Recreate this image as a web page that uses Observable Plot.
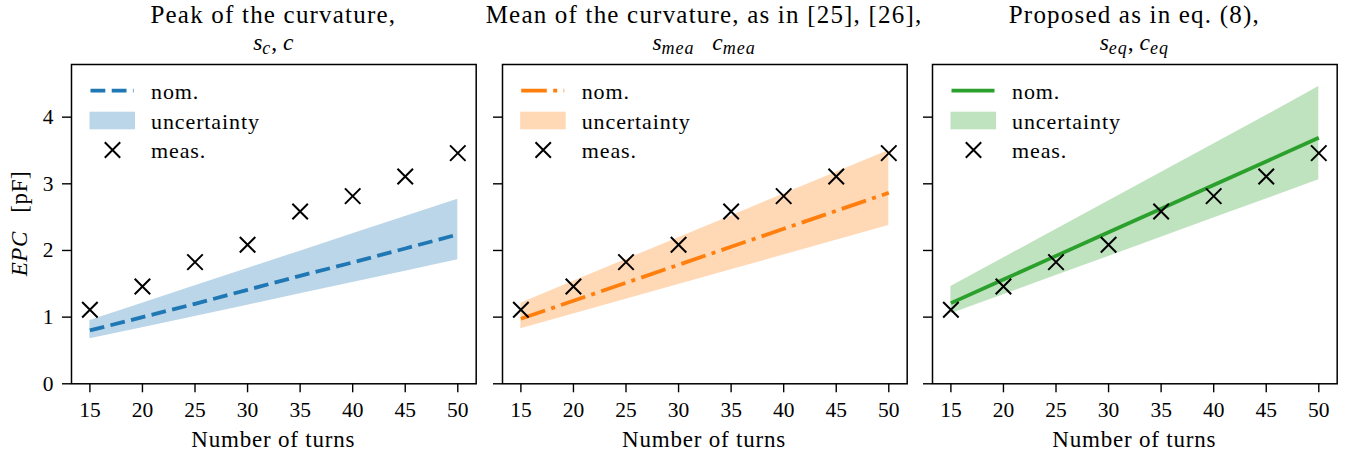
<!DOCTYPE html>
<html><head><meta charset="utf-8">
<script src="https://cdn.jsdelivr.net/npm/d3@7"></script>
<script src="https://cdn.jsdelivr.net/npm/@observablehq/plot@0.6"></script>
<style>
body{margin:0;background:#fff;}
#fig{position:relative;width:1348px;height:457px;font-family:"Liberation Serif","Times New Roman","DejaVu Serif",serif;color:#000;}
#fig > svg{position:absolute;top:0;}
#fig text{font-family:"Liberation Serif","Times New Roman","DejaVu Serif",serif;}
</style></head><body><div id="fig"></div>
<script>
// ---- data ----
const turns = [15, 20, 25, 30, 35, 40, 45, 50];
const measured = [1.11, 1.46, 1.825, 2.085, 2.585, 2.815, 3.11, 3.46];

const peakNom  = [0.80, 1.00, 1.20, 1.41, 1.62, 1.82, 2.03, 2.24];
const peakLow  = [0.675, 0.84, 1.01, 1.18, 1.35, 1.52, 1.69, 1.86];
const peakHigh = [0.95, 1.21, 1.47, 1.73, 1.99, 2.25, 2.51, 2.77];

const meanNom  = [0.975, 1.245, 1.515, 1.785, 2.055, 2.325, 2.595, 2.865];
const meanLow  = [0.825, 1.046, 1.268, 1.489, 1.711, 1.932, 2.154, 2.375];
const meanHigh = [1.21, 1.537, 1.864, 2.191, 2.519, 2.846, 3.173, 3.50];

const eqNom  = [1.21, 1.564, 1.919, 2.273, 2.627, 2.981, 3.336, 3.69];
const eqLow  = [1.05, 1.337, 1.624, 1.911, 2.199, 2.486, 2.773, 3.06];
const eqHigh = [1.46, 1.887, 2.314, 2.741, 3.169, 3.596, 4.023, 4.46];

const xTicks = [15, 20, 25, 30, 35, 40, 45, 50];
const yTicks = [0, 1, 2, 3, 4];

const titles = ["Peak of the curvature,", "Mean of the curvature, as in [25], [26],", "Proposed as in eq. (8),"];
// subtitle pieces: [main, subscript, separator]
const subtitles = [
  [["s", "c", ", "], ["c", "", ""]],
  [["s", "mea", "\u2002 "], ["c", "mea", ""]],
  [["s", "eq", ", "], ["c", "eq", ""]]
];
const legendLabels = ["nom.", "uncertainty", "meas."];
const xLabel = "Number of turns";

// ---- layout ----
const FONT = '"Liberation Serif", "Times New Roman", "DejaVu Serif", serif';
const colors = ["#1f77b4", "#ff7f0e", "#2ca02c"];
const dashes = ["14.8,6.4", "25.6,6.4,4,6.4", null];
const series = [[peakNom, peakLow, peakHigh], [meanNom, meanLow, meanHigh], [eqNom, eqLow, eqHigh]];
const panelLeft = [71, 501.7, 932];
const panelW = 404.7, frameTop = 64, frameBottom = 383.3, H = 457;
const fig = document.getElementById("fig");

series.forEach(([nom, low, high], i) => {
  const data = turns.map((t, k) => ({t, nom: nom[k], low: low[k], high: high[k], meas: measured[k]}));
  const mL = i === 0 ? 71 : 20, mR = 6;
  const chart = Plot.plot({
    width: mL + panelW + mR, height: H,
    marginTop: frameTop, marginBottom: H - frameBottom, marginLeft: mL, marginRight: mR,
    style: {fontFamily: FONT, fontSize: "21.5px", background: "transparent", color: "#000", overflow: "visible"},
    x: {domain: [13.25, 51.75]},
    y: {domain: [0, 4.79]},
    marks: [
      Plot.areaY(data, {x: "t", y1: "low", y2: "high", fill: colors[i], fillOpacity: 0.3}),
      Plot.lineY(data, {x: "t", y: "nom", stroke: colors[i], strokeWidth: 3.8, strokeDasharray: dashes[i], strokeLinecap: "butt"}),
      Plot.dot(data, {x: "t", y: "meas", symbol: "times", r: 7.1, stroke: "#000", strokeWidth: 2}),
      Plot.axisX({ticks: xTicks, tickSize: 9, tickPadding: 9, strokeWidth: 1.4, label: null}),
      Plot.axisY({ticks: yTicks, tickSize: 9, tickPadding: 9, strokeWidth: 1.4, label: null,
                  tickFormat: i === 0 ? (d => String(d)) : (() => "")}),
      Plot.frame({stroke: "#000", strokeWidth: 1.5})
    ]
  });
  chart.style.left = (panelLeft[i] - mL) + "px";
  fig.appendChild(chart);
});

// ---- overlay: titles, labels, legends ----
const ov = d3.select(fig).append("svg")
  .attr("width", 1348).attr("height", H)
  .style("left", "0px").style("pointer-events", "none")
  .style("font-family", FONT).attr("fill", "#000");

panelLeft.forEach((L, i) => {
  const cx = L + panelW / 2;
  ov.append("text").attr("x", cx).attr("y", 23).attr("text-anchor", "middle")
    .attr("font-size", 25).attr("letter-spacing", 1.2).text(titles[i]);
  const st = ov.append("text").attr("x", cx).attr("y", 50).attr("text-anchor", "middle").attr("font-size", 23.5);
  subtitles[i].forEach(([m, sub, sep]) => {
    st.append("tspan").attr("font-style", "italic").text(m);
    if (sub) st.append("tspan").attr("font-style", "italic").attr("font-size", 18).attr("letter-spacing", 1).attr("dy", 3.5).text(sub);
    if (sep) st.append("tspan").attr("dy", sub ? -3.5 : 0).attr("letter-spacing", 0).text(sep);
  });
  ov.append("text").attr("x", cx).attr("y", 447).attr("text-anchor", "middle")
    .attr("font-size", 23).attr("letter-spacing", 0.8).text(xLabel);

  // legend
  const g = ov.append("g").attr("transform", `translate(${L},0)`);
  g.append("line").attr("x1", 19.5).attr("x2", 62.5).attr("y1", 90.7).attr("y2", 90.7)
    .attr("stroke", colors[i]).attr("stroke-width", 3.8)
    .attr("stroke-dasharray", dashes[i] || null);
  g.append("rect").attr("x", 18.5).attr("y", 111.7).attr("width", 45.5).attr("height", 17.6)
    .attr("fill", colors[i]).attr("fill-opacity", 0.3);
  const mx = 41.5, my = 150, r = 7.7;
  g.append("path").attr("d", `M${mx - r},${my - r}L${mx + r},${my + r}M${mx - r},${my + r}L${mx + r},${my - r}`)
    .attr("stroke", "#000").attr("stroke-width", 2).attr("fill", "none");
  [99, 128.5, 158].forEach((y, k) => {
    g.append("text").attr("x", 80).attr("y", y).attr("font-size", 22).attr("letter-spacing", 0.9).text(legendLabels[k]);
  });
});

// y label
const yl = ov.append("text").attr("transform", "translate(27,223.5) rotate(-90)")
  .attr("text-anchor", "middle").attr("font-size", 23).attr("letter-spacing", 0.6);
yl.append("tspan").attr("font-style", "italic").text("EPC");
yl.append("tspan").text("\u2002 [pF]");
</script>
</body></html>
